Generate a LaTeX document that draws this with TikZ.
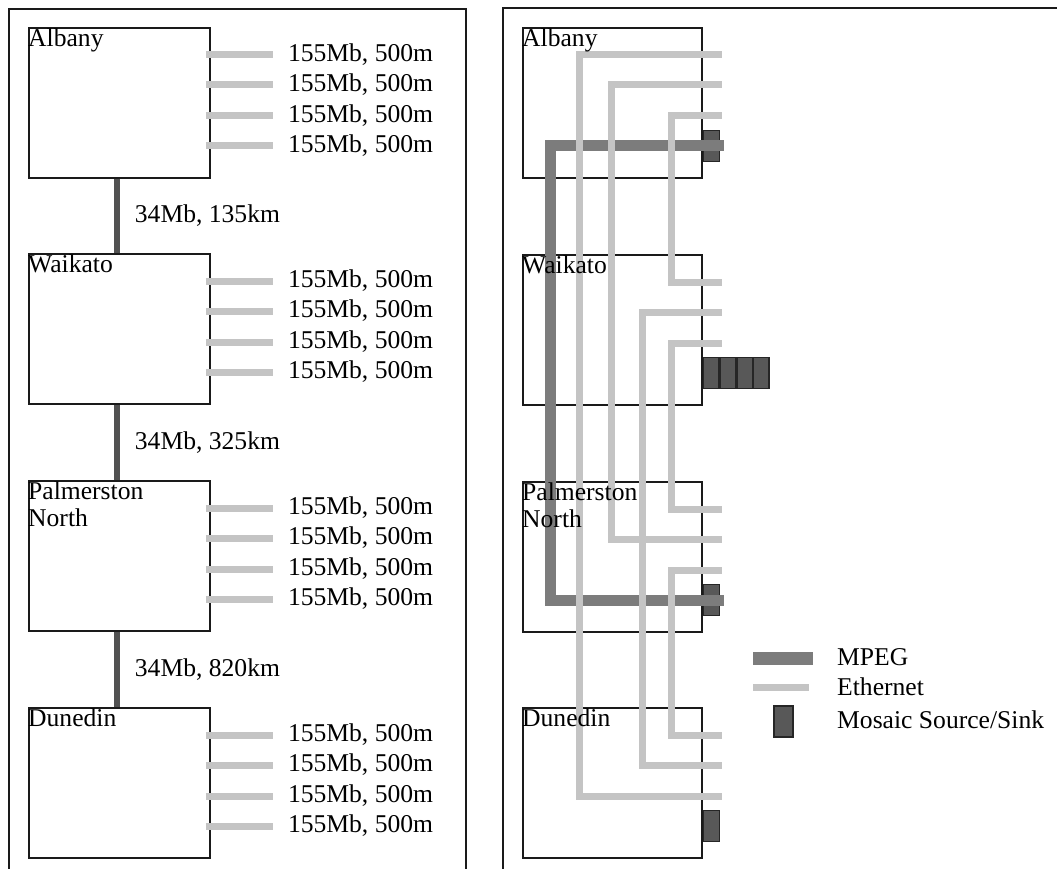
\documentclass[tikz,border=0pt]{standalone}
\usepackage{fontspec}
\setmainfont{Liberation Serif}
\usetikzlibrary{positioning,calc}
\definecolor{nzFrame}{HTML}{1A1A1A}
\definecolor{nzMPEG}{HTML}{7C7C7C}
\definecolor{nzEther}{HTML}{C4C4C4}
\definecolor{nzTrunk}{HTML}{525252}
\definecolor{nzMosaic}{HTML}{585858}
\newcommand{\nzfont}{\fontsize{25.6}{27}\selectfont}
\tikzset{
  panel/.style={draw=nzFrame, line width=2.6pt},
  site/.style={
    draw=nzFrame, line width=1.8pt, minimum width=181pt, minimum height=150pt,
    anchor=north west, inner sep=0pt
  },
  sitename/.style={anchor=north west, align=left, inner xsep=0pt, inner ysep=2pt, font=\nzfont},
  rate/.style={inner sep=0pt, font=\nzfont},
  legendtext/.style={inner sep=0pt, anchor=west, font=\nzfont},
  ether/.style={draw=nzEther, line width=7pt, line cap=butt, line join=miter},
  mpeg/.style={draw=nzMPEG, line width=11pt, line cap=butt, line join=miter},
  trunk/.style={draw=nzTrunk, line width=6pt, line cap=butt},
  mosaic/.style={draw=black!85, fill=nzMosaic, line width=1.4pt, minimum width=16pt, minimum height=31pt, inner sep=0pt}
}

\begin{document}
\begin{tikzpicture}[x=1pt, y=-1pt]
  \useasboundingbox (0,0) rectangle (1057,869);
  \clip (0,0) rectangle (1057,869);
  \draw[panel] (9,880) |- (466,9) -- (466,880);
  \draw[panel] (503,880) |- (1070,8);

  % left: sites and links
  \foreach \ytop/\id/\txt in {27/alb/Albany, 253/wai/Waikato, 480/pal/{Palmerston\\North}, 707/dun/Dunedin}{
    \node[site] (L\id) at (28,\ytop) {};
    \node[sitename] (L\id-name) at (L\id.north west) {\txt};
    \foreach \k/\dy in {1/28,2/58,3/89,4/119}{
      \coordinate (L\id-p\k) at ($(L\id.north east)+(0,\dy)$);
      \node[rate, anchor=west, right=77pt of L\id-p\k] (L\id-r\k) {155Mb, 500m};
      \draw[ether] ([xshift=-5pt]L\id-p\k) -- ([xshift=-15pt]L\id-r\k.west);
    }
  }
  \foreach \a/\b/\txt in {alb/wai/{34Mb, 135km}, wai/pal/{34Mb, 325km}, pal/dun/{34Mb, 820km}}
    \draw[trunk] ([xshift=-2.5pt]L\a.south) -- node[rate, right=15pt]{\txt} ([xshift=-2.5pt]L\b.north);

  % right: routing
  \foreach \ytop/\id in {27/alb, 254/wai, 481/pal, 707/dun}{
    \node[site, minimum width=179pt] (R\id) at (522,\ytop) {};
    \foreach \k/\dy in {1/28,2/58,3/89,4/119}
      \coordinate (R\id-p\k) at ($(R\id.north east)+(19,\dy)$);
  }
  \node[mosaic, anchor=west] (Ralb-m) at (Ralb.east |- Ralb-p4) {};
  \node[mosaic, anchor=west] (Rpal-m) at (Rpal.east |- Rpal-p4) {};
  \node[mosaic, anchor=west] (Rdun-m) at (Rdun.east |- Rdun-p4) {};
  \node[mosaic, anchor=west, minimum width=15.3pt] (Rwai-m1) at (Rwai.east |- Rwai-p4) {};
  \foreach \i [remember=\i as \j (initially 1)] in {2,3,4}
    \node[mosaic, minimum width=15.3pt, right=0pt of Rwai-m\j] (Rwai-m\i) {};

  \draw[mpeg] ([xshift=2pt]Ralb-p4) -| ([xshift=-171pt]Rpal-p4) -- ([xshift=2pt]Rpal-p4);
  \foreach \a/\b/\dx in {alb-p1/dun-p3/142pt, alb-p2/pal-p2/110pt, alb-p3/wai-p1/50pt,
                         wai-p2/dun-p2/79pt, wai-p3/pal-p1/50pt, pal-p3/dun-p1/50pt}
    \draw[ether] (R\a) -| ([xshift=-\dx]R\b) -- (R\b);

  \foreach \id/\txt in {alb/Albany, wai/Waikato, pal/{Palmerston\\North}, dun/Dunedin}
    \node[sitename] (R\id-name) at (R\id.north west) {\txt};

  % legend
  \coordinate (lg-mpeg-a) at (753,658);
  \coordinate (lg-mpeg-b) at (813,658);
  \coordinate (lg-eth-a) at (753,687);
  \coordinate (lg-eth-b) at (809,687);
  \draw[mpeg, line width=13pt] (lg-mpeg-a) -- (lg-mpeg-b);
  \draw[ether] (lg-eth-a) -- (lg-eth-b);
  \node[mosaic, minimum width=19pt] (lg-mos) at (783.5,721.5) {};
  \node[legendtext] (lg-mpeg-t) at (837,657) {MPEG};
  \node[legendtext] (lg-eth-t) at (837,687) {Ethernet};
  \node[legendtext] (lg-mos-t) at (837,720) {Mosaic Source/Sink};
\end{tikzpicture}
\end{document}
